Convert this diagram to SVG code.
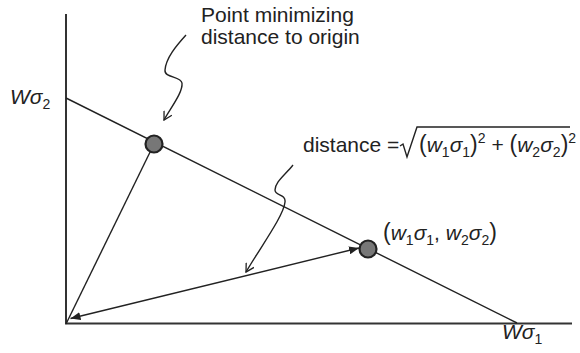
<svg xmlns="http://www.w3.org/2000/svg" width="580" height="353" viewBox="0 0 580 353">
<style>
text{font-family:"Liberation Sans",Arial,sans-serif;font-size:21px;fill:#222}
.i{font-style:italic}
.s{font-size:14px}
.p{font-size:23px}
.ln{stroke:#222;stroke-width:1.4;fill:none}
.ax{stroke:#333;stroke-width:2;fill:none}
.pt{fill:#777;stroke:#222;stroke-width:2.2}
</style>
<defs>
<marker id="fa" viewBox="0 0 10 8" refX="10" refY="4" markerWidth="10" markerHeight="8" markerUnits="userSpaceOnUse" orient="auto-start-reverse">
<path d="M0,0 L10,4 L0,8 Z" fill="#222"/>
</marker>
<marker id="ov" viewBox="0 0 10 10" refX="9" refY="5" markerWidth="10" markerHeight="10" markerUnits="userSpaceOnUse" orient="auto">
<path d="M1,0.5 L9,5 L1,9.5" fill="none" stroke="#222" stroke-width="1.3"/>
</marker>
</defs>
<g id="axes">
<line class="ax" x1="66" y1="14" x2="66" y2="324"/>
<line class="ax" x1="65" y1="323.5" x2="572" y2="323.5"/>
<text id="ylabel" x="10" y="104"><tspan class="i">Wσ</tspan><tspan class="s" dy="5">2</tspan></text>
<text id="xlabel" x="502" y="339"><tspan class="i">Wσ</tspan><tspan class="s" dy="5">1</tspan></text>
</g>
<g id="connectors">
<line class="ln" x1="66" y1="98" x2="517" y2="323"/>
<line class="ln" x1="66" y1="324" x2="154" y2="144"/>
<line class="ln" x1="70.5" y1="318.5" x2="359" y2="248" marker-start="url(#fa)" marker-end="url(#fa)"/>
<path class="ln" d="M186,35 C176,46 166,58 165,70 C164,78 181,76 182,83 C183,92 172,106 164,120" marker-end="url(#ov)"/>
<path class="ln" d="M293,165 C285,175 275,182 275,190 C275,196 286,194 285,202 C284,215 262,245 246,272" marker-end="url(#ov)"/>
</g>
<g id="point-min">
<circle class="pt" cx="154" cy="144" r="8.5"/>
</g>
<g id="point-w">
<circle class="pt" cx="368" cy="249" r="8.5"/>
</g>
<g id="label-min">
<text x="201" y="22">Point minimizing</text>
<text x="201" y="44">distance to origin</text>
</g>
<g id="label-distance">
<text x="303" y="152">distance =</text>
<path class="ln" d="M400,146 L403,144 L407,157 L417,127 L570,127"/>
<text x="419" y="152"><tspan class="p">(</tspan><tspan class="i">w</tspan><tspan class="s" dy="5">1</tspan><tspan class="i" dy="-5">σ</tspan><tspan class="s" dy="5">1</tspan><tspan class="p" dy="-5">)</tspan><tspan class="s" dy="-9">2</tspan><tspan dy="9"> + </tspan><tspan class="p">(</tspan><tspan class="i">w</tspan><tspan class="s" dy="5">2</tspan><tspan class="i" dy="-5">σ</tspan><tspan class="s" dy="5">2</tspan><tspan class="p" dy="-5">)</tspan><tspan class="s" dy="-9">2</tspan></text>
</g>
<g id="label-point">
<text x="383" y="240"><tspan class="p">(</tspan><tspan class="i">w</tspan><tspan class="s" dy="5">1</tspan><tspan class="i" dy="-5">σ</tspan><tspan class="s" dy="5">1</tspan><tspan dy="-5">, </tspan><tspan class="i">w</tspan><tspan class="s" dy="5">2</tspan><tspan class="i" dy="-5">σ</tspan><tspan class="s" dy="5">2</tspan><tspan class="p" dy="-5">)</tspan></text>
</g>
</svg>
